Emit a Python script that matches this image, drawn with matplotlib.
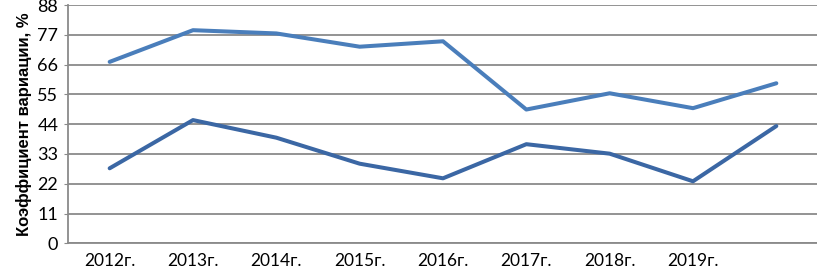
import numpy as np
import matplotlib.pyplot as plt

years = ['2012г.', '2013г.', '2014г.', '2015г.', '2016г.', '2017г.', '2018г.', '2019г.', '']
upper = [67.0, 78.7, 77.5, 72.6, 74.6, 49.4, 55.4, 49.9, 59.1]
lower = [27.7, 45.5, 39.0, 29.4, 24.0, 36.6, 33.1, 22.9, 43.3]
yticks = [0, 11, 22, 33, 44, 55, 66, 77, 88]

fig = plt.figure(figsize=(8.17, 2.69), dpi=100)
ax = fig.add_axes([68/817, 1-243.3/269, 750/817, (243.3-5)/269])

x = np.arange(len(years))
ax.plot(x, upper, color='#4a7ebb', linewidth=2.9, solid_capstyle='round', zorder=3)
ax.plot(x, lower, color='#3b67a4', linewidth=2.9, solid_capstyle='round', zorder=3)

ax.set_xlim(-0.5, len(years) - 0.5)
ax.set_ylim(0, 88)
ax.set_yticks(yticks)
ax.set_xticks(x)
ax.set_xticklabels(years, fontsize=12.5, family='Lato')
for lab in ax.get_yticklabels():
    lab.set_fontsize(13)
    lab.set_family('Lato')

ax.grid(axis='y', color='#8a8a8a', linewidth=1.3)
ax.set_axisbelow(True)
for s in ['top', 'right']:
    ax.spines[s].set_visible(False)
ax.spines['left'].set_color('#8a8a8a')
ax.spines['bottom'].set_color('#8a8a8a')
ax.spines['left'].set_linewidth(1.3)
ax.spines['bottom'].set_linewidth(1.3)
ax.tick_params(axis='x', length=0, pad=7)
ax.tick_params(axis='y', length=3, color='#8a8a8a', pad=4)

ax.set_ylabel('Коэффициент вариации, %', fontsize=12, fontweight='bold',
              family='Liberation Sans', labelpad=4)

plt.savefig('out.png', dpi=100)
